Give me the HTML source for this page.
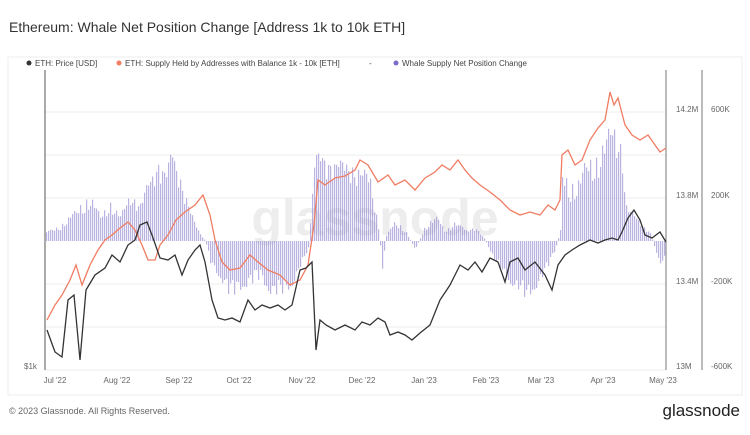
<!DOCTYPE html><html><head><style>
body{margin:0;width:750px;height:430px;background:#fff;font-family:"Liberation Sans",sans-serif;overflow:hidden}
</style></head><body>
<svg id="s" width="750" height="430" xmlns="http://www.w3.org/2000/svg" font-family="Liberation Sans, sans-serif">
<rect x="8" y="57" width="734" height="338" fill="none" stroke="#eee"/>
<text x="9" y="32" font-size="14" fill="#333">Ethereum: Whale Net Position Change [Address 1k to 10k ETH]</text>
<g font-size="8" fill="#444">
<circle cx="29" cy="63" r="2.5" fill="#333"/><text x="35" y="66">ETH: Price [USD]</text>
<circle cx="119" cy="63" r="2.5" fill="#f07c62"/><text x="125" y="66">ETH: Supply Held by Addresses with Balance 1k - 10k [ETH]</text>
<text x="369" y="66">-</text>
<circle cx="396" cy="63" r="2.5" fill="#7b6cc8"/><text x="402" y="66">Whale Supply Net Position Change</text>
</g>
<g stroke="#eee" stroke-width="1">
<line x1="45" x2="666" y1="112" y2="112"/><line x1="45" x2="666" y1="155" y2="155"/><line x1="45" x2="666" y1="198" y2="198"/><line x1="45" x2="666" y1="284" y2="284"/><line x1="45" x2="666" y1="327" y2="327"/><line x1="45" x2="666" y1="370" y2="370"/>
</g>
<text x="375" y="235" font-size="50" fill="#ededed" text-anchor="middle" font-weight="bold">glassnode</text>
<g id="bars" fill="#8f86d0" opacity="0.62"></g>
<line x1="45" x2="45" y1="70" y2="370" stroke="#555"/>
<line x1="666" x2="666" y1="70" y2="370" stroke="#777"/>
<line x1="702" x2="702" y1="70" y2="370" stroke="#777"/>
<polyline id="sup" fill="none" stroke="#f07c62" stroke-width="1.3"/>
<polyline id="pr" fill="none" stroke="#333" stroke-width="1.3"/>
<g font-size="8" fill="#666">
<text x="24" y="369">$1k</text>
<text x="676" y="112">14.2M</text><text x="676" y="198">13.8M</text><text x="676" y="284">13.4M</text><text x="676" y="369">13M</text>
<text x="711" y="112">600K</text><text x="711" y="198">200K</text><text x="711" y="284">-200K</text><text x="711" y="369">-600K</text>
<g text-anchor="middle"><text x="55" y="383">Jul '22</text><text x="117" y="383">Aug '22</text><text x="179" y="383">Sep '22</text><text x="239" y="383">Oct '22</text><text x="302" y="383">Nov '22</text><text x="362" y="383">Dec '22</text><text x="424" y="383">Jan '23</text><text x="486" y="383">Feb '23</text><text x="541" y="383">Mar '23</text><text x="603" y="383">Apr '23</text><text x="663" y="383">May '23</text></g>
</g>
<text x="9" y="414" font-size="9" fill="#666">© 2023 Glassnode. All Rights Reserved.</text>
<text x="740" y="416" font-size="17" fill="#222" text-anchor="end">glassnode</text>
</svg>
<script>
var P=[47,330,55,352,62,357,68,300,74,295,80,360,86,290,95,275,105,268,112,255,120,262,128,245,135,240,140,225,147,222,152,235,160,258,168,260,175,255,182,275,188,260,195,250,200,245,205,262,212,300,218,318,225,320,232,318,240,322,248,300,255,310,262,305,270,308,278,305,285,310,292,305,300,270,306,268,312,262,316,350,320,320,326,325,335,330,345,325,355,330,362,322,370,325,378,318,385,322,390,335,398,332,405,335,412,340,420,333,430,325,440,300,450,285,460,265,468,270,475,262,482,272,490,258,498,262,505,282,510,262,518,258,525,270,535,262,545,275,552,290,558,265,565,255,572,250,580,245,590,240,598,243,605,240,612,238,618,240,622,232,628,218,634,210,640,220,645,235,652,238,660,232,666,242];
var S=[47,320,55,305,62,295,70,280,76,265,82,285,90,265,98,250,105,240,112,235,120,228,128,222,135,230,142,245,148,260,155,260,160,245,168,235,176,220,185,212,195,205,203,195,210,215,215,240,222,262,230,270,240,268,250,255,258,262,268,270,280,275,290,285,300,280,308,265,314,225,318,180,325,185,335,178,345,176,355,170,360,160,368,165,378,182,388,175,395,185,405,180,415,190,425,178,435,172,442,165,450,170,458,160,465,170,472,178,480,185,490,192,500,200,510,210,520,215,530,212,540,215,548,205,555,210,560,200,562,155,568,150,575,165,582,160,590,140,598,128,605,120,610,92,614,105,618,98,625,125,632,135,640,140,648,135,655,145,660,152,666,148];
function pts(a){var r=[];for(var i=0;i<a.length;i+=2)r.push(a[i]+','+a[i+1]);return r.join(' ')}
document.getElementById('pr').setAttribute('points',pts(P));
document.getElementById('sup').setAttribute('points',pts(S));
var B=[45,232,60,225,75,210,90,195,100,215,110,200,120,215,130,190,140,200,150,175,158,150,165,165,172,150,180,170,188,200,195,225,205,241,210,265,220,280,230,300,240,290,250,285,260,280,270,295,280,300,290,290,300,270,308,250,314,160,320,145,330,150,340,160,350,155,360,165,370,175,378,225,382,270,386,235,395,220,405,230,415,250,425,225,435,215,445,230,455,220,465,230,475,225,485,240,495,265,505,280,515,290,525,305,535,290,545,275,555,250,560,230,562,170,570,185,578,180,585,160,595,155,605,135,612,120,618,125,622,140,625,200,630,210,640,220,650,232,655,250,660,265,666,260];
function env(x){for(var i=0;i<B.length-2;i+=2){if(x>=B[i]&&x<=B[i+2]){var t=(x-B[i])/(B[i+2]-B[i]);return B[i+1]+t*(B[i+3]-B[i+1]);}}return 241;}
var g=document.getElementById('bars'),h='',z=241;
for(var x=46;x<666;x+=2){var y=env(x);var n=1-0.35*Math.abs(Math.sin(x*1.7)*Math.cos(x*0.53));y=z+(y-z)*n;
var t=Math.min(y,z),hh=Math.abs(y-z);h+='<rect x="'+x+'" y="'+t.toFixed(1)+'" width="1.2" height="'+hh.toFixed(1)+'"/>';}
g.innerHTML=h;
</script>
</body></html>
